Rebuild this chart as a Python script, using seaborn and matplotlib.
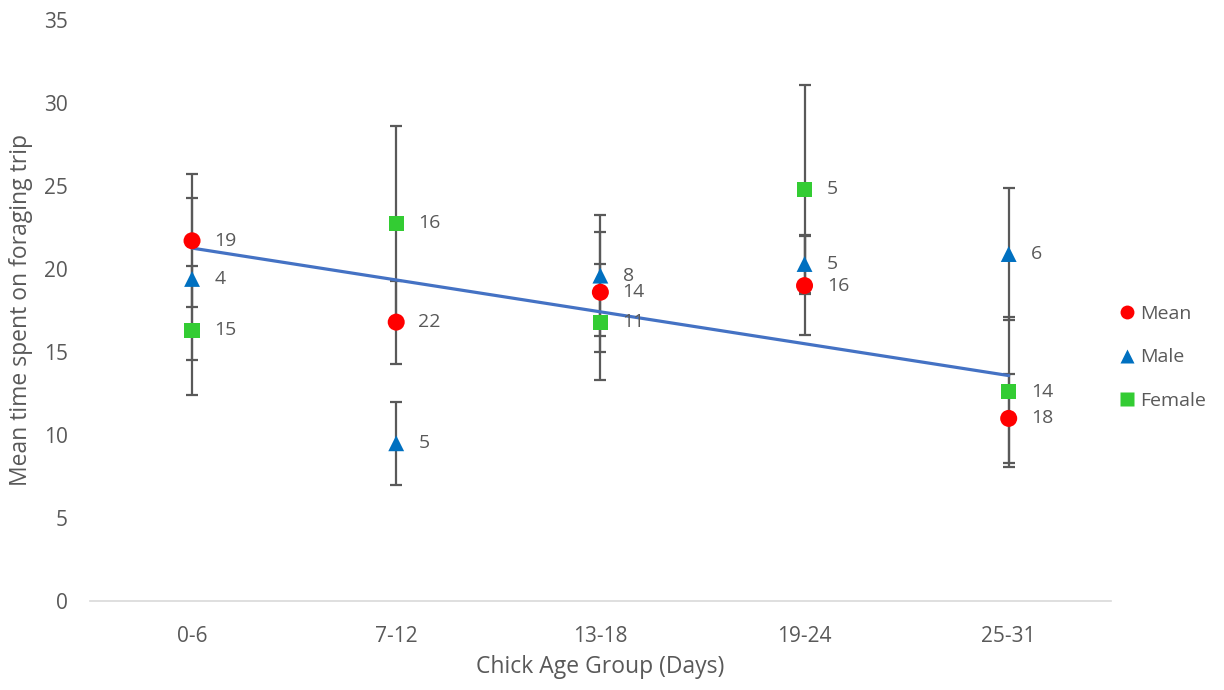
import numpy as np
import pandas as pd
import matplotlib
matplotlib.use("Agg")
import matplotlib.pyplot as plt
from matplotlib.lines import Line2D
import seaborn as sns

categories = ["0-6", "7-12", "13-18", "19-24", "25-31"]
mean_vals = [21.7, 16.8, 18.6, 19.0, 11.0]
mean_err = [4.0, 2.5, 3.6, 3.0, 2.7]
mean_n = ["19", "22", "14", "16", "18"]
male_vals = [19.4, 9.5, 19.6, 20.3, 20.9]
male_err = [4.9, 2.5, 3.65, 1.75, 4.0]
male_n = ["4", "5", "8", "5", "6"]
female_vals = [16.3, 22.75, 16.8, 24.8, 12.6]
female_err = [3.9, 5.85, 3.5, 6.3, 4.5]
female_n = ["15", "16", "11", "5", "14"]

series = ["Mean", "Male", "Female"]
colors = {"Mean": "#FF0000", "Male": "#0070C0", "Female": "#33CC33"}
markers = {"Mean": "o", "Male": "^", "Female": "s"}
msizes = {"Mean": 150, "Male": 130, "Female": 120}

sns.set_theme(style="white")
plt.rcParams["font.family"] = ["Open Sans", "DejaVu Sans"]

rows = []
for name, vals, errs, ns in [("Mean", mean_vals, mean_err, mean_n),
                             ("Male", male_vals, male_err, male_n),
                             ("Female", female_vals, female_err, female_n)]:
    for i, c in enumerate(categories):
        rows.append({"series": name, "cat": c, "pos": i, "value": vals[i],
                     "err": errs[i], "n": ns[i]})
df = pd.DataFrame(rows)

fig = plt.figure(figsize=(12.24, 6.90), dpi=100)
ax = fig.add_axes([0.0735, 0.129, 0.834, 0.842])

grey = "#595959"
for name in series:
    d = df[df.series == name]
    ax.errorbar(d["pos"], d["value"], yerr=d["err"], fmt="none",
                ecolor=grey, elinewidth=1.6, capsize=4.5, capthick=1.6, zorder=2)

dm = df[df.series == "Mean"]
sns.regplot(data=dm, x="pos", y="value", scatter=False, ci=None, ax=ax,
            line_kws={"color": "#4472C4", "lw": 2.3, "zorder": 3},
            truncate=True)

for name in series:
    d = df[df.series == name]
    sns.scatterplot(data=d, x="pos", y="value", ax=ax, marker=markers[name],
                    color=colors[name], s=msizes[name], edgecolor="none",
                    linewidth=0, zorder=4, legend=False)
    for _, r in d.iterrows():
        ax.annotate(r["n"], (r["pos"], r["value"]), xytext=(16, 0),
                    textcoords="offset points", va="center", ha="left",
                    fontsize=14, color=grey, zorder=5)

ax.set_xlim(-0.5, 4.5)
ax.set_ylim(0, 35)
ax.set_yticks(range(0, 36, 5))
ax.set_xticks(range(len(categories)))
ax.set_xticklabels(categories)
ax.tick_params(axis="both", length=0, labelsize=15, labelcolor=grey)
ax.tick_params(axis="y", pad=16)
ax.tick_params(axis="x", pad=18)
for s in ["top", "right", "left"]:
    ax.spines[s].set_visible(False)
ax.spines["bottom"].set_color("#D9D9D9")
ax.spines["bottom"].set_linewidth(1.2)
ax.set_xlabel("Chick Age Group (Days)", fontsize=16.5, color=grey, labelpad=6)
ax.set_ylabel("Mean time spent on foraging trip", fontsize=16.5, color=grey,
              labelpad=8)

handles = [Line2D([0], [0], marker=markers[n], color="none",
                  markerfacecolor=colors[n], markeredgecolor="none",
                  markersize=10, label=n) for n in series]
fig.legend(handles=handles, loc="center left", bbox_to_anchor=(0.9, 0.482),
           frameon=False, fontsize=14, labelcolor=grey, handlelength=0.8,
           handletextpad=0.3, labelspacing=1.3)

fig.savefig("out.png", dpi=100)
